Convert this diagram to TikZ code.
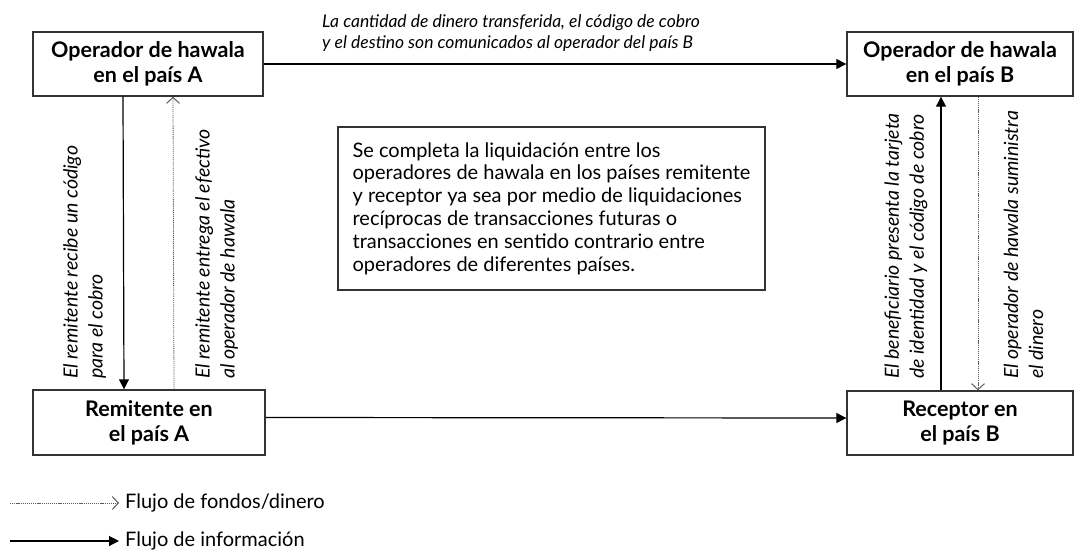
\documentclass[tikz,border=0pt]{standalone}
\usepackage{fontspec}
\setmainfont{Lato}
\usetikzlibrary{arrows.meta}
\definecolor{linegray}{HTML}{333333}

\begin{document}
\begin{tikzpicture}[x=1pt,y=-1pt,
    actor/.style={draw=linegray,line width=1.4pt,minimum width=230pt,minimum height=64pt,
        align=center,font=\fontsize{21.5}{25}\selectfont\bfseries},
    infobox/.style={draw=linegray,line width=1.4pt,minimum width=427pt,minimum height=163pt,
        align=left,font=\fontsize{20}{22.8}\selectfont},
    note/.style={align=left,inner sep=0pt,font=\fontsize{17.5}{21}\selectfont\itshape},
    sidenote/.style={align=left,inner sep=0pt,font=\fontsize{19.5}{25}\selectfont\itshape,rotate=90,anchor=west},
    legtext/.style={anchor=west,inner sep=6pt,font=\fontsize{20}{24}\selectfont},
    info/.style={draw=black,line width=1.2pt,-{Triangle[length=10pt,width=10pt]}},
    money/.style={draw=linegray!80,line width=0.8pt,dash pattern=on 1.2pt off 0.9pt,
        -{Straight Barb[length=6pt,width=13pt,line width=1pt]}}]
    \useasboundingbox (0,0) rectangle (1075,554);

    \node[actor] (opA) at (148,64) {Operador de hawala\\en el país A};
    \node[actor,minimum width=226pt] (opB) at (960,64) {Operador de hawala\\en el país B};
    \node[actor,minimum width=232pt,minimum height=65pt] (remA) at (149,422.5) {Remitente en\\el país A};
    \node[actor,minimum width=226pt] (recB) at (960,423) {Receptor en\\el país B};

    \node[infobox] (liq) at (551.5,208.5) {Se completa la liquidación entre los\\operadores de hawala en los países remitente\\y receptor ya sea por medio de liquidaciones\\recíprocas de transacciones futuras o\\transacciones en sentido contrario entre\\operadores de diferentes países.};

    % flujo de informacion
    \draw[info] (opA.east) -- (opB.west);
    \draw[info] ([yshift=5pt]remA.east) -- ([yshift=5pt]recB.west);
    \draw[info] ([xshift=-25pt]opA.south) -- ([xshift=-25pt]remA.north);
    \draw[info] ([xshift=-19pt]recB.north) -- ([xshift=-19pt]opB.south);

    % flujo de fondos
    \draw[money] ([xshift=25pt]remA.north) -- ([xshift=25pt]opA.south);
    \draw[money] ([xshift=18pt]opB.south) -- ([xshift=18pt]recB.north);

    % textos de las flechas
    \node[note,anchor=north west] (msgAB) at (322,14) {La cantidad de dinero transferida, el código de cobro\\y el destino son comunicados al operador del país B};
    \node[sidenote] (codA) at (84.5,379) {El remitente recibe un código\\para el cobro};
    \node[sidenote] (efeA) at (216.5,379) {El remitente entrega el efectivo\\al operador de hawala};
    \node[sidenote] (codB) at (906,379) {El beneficiario presenta la tarjeta\\de identidad y el código de cobro};
    \node[sidenote] (dinB) at (1023.5,379) {El operador de hawala suministra\\el dinero};

    % leyenda
    \node[legtext] (legF) at (119,503) {Flujo de fondos/dinero};
    \node[legtext] (legI) at (119,541) {Flujo de información};
    \coordinate (legFs) at (10,503);
    \coordinate (legIs) at (10,541);
    \draw[money] (legFs) -- (legF.west);
    \draw[info] (legIs) -- (legI.west);
\end{tikzpicture}
\end{document}
